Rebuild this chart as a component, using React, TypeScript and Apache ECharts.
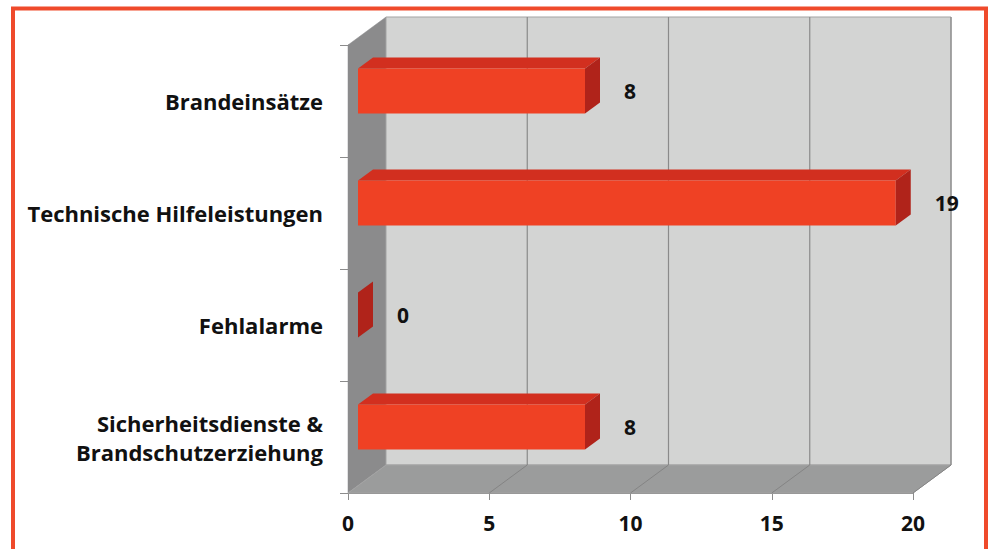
import React, { useEffect, useRef } from "react";
import * as echarts from "echarts";

const categories = [
  "Brandeinsätze",
  "Technische Hilfeleistungen",
  "Fehlalarme",
  "Sicherheitsdienste &\nBrandschutzerziehung",
];
const values = [8, 19, 0, 8];
const xTicks = [0, 5, 10, 15, 20];

const FONT = "'Open Sans', Lato, sans-serif";
const WALL_DX = 38;
const WALL_DY = -28;
const BAR_OFF = 10;
const BAR_DX = 15;
const BAR_DY = -11;

export default function App() {
  const ref = useRef<HTMLDivElement>(null);
  useEffect(() => {
    if (!ref.current) return;
    const chart = echarts.init(ref.current, undefined, { renderer: "svg" });
    const option: any = {
      animation: false,
      backgroundColor: "#ffffff",
      graphic: [
        {
          type: "rect",
          shape: { x: 13, y: 8.5, width: 973, height: 570 },
          style: { fill: "none", stroke: "#ef4a2b", lineWidth: 4 },
          z: 100,
        },
      ],
      grid: {
        left: 348,
        top: 45,
        width: 565,
        height: 448,
        containLabel: false,
        outerBoundsMode: "none",
      },
      xAxis: {
        type: "value",
        min: 0,
        max: 20,
        interval: 5,
        axisLine: { show: true, lineStyle: { color: "#8c8c8c", width: 1 } },
        axisTick: { show: true, length: 7, lineStyle: { color: "#8c8c8c" } },
        splitLine: { show: false },
        axisLabel: {
          margin: 19,
          fontFamily: FONT,
          fontWeight: "bold",
          fontSize: 21,
          color: "#111",
          formatter: (v: number) => (xTicks.includes(v) ? String(v) : ""),
        },
      },
      yAxis: {
        type: "category",
        inverse: true,
        data: categories,
        axisLine: { show: true, lineStyle: { color: "#8c8c8c", width: 1 } },
        axisTick: { show: true, length: 8, lineStyle: { color: "#8c8c8c" } },
        axisLabel: {
          margin: 25,
          fontFamily: FONT,
          fontWeight: "bold",
          fontSize: 22,
          lineHeight: 29,
          color: "#111",
          align: "right",
        },
      },
      series: [
        {
          type: "custom",
          silent: true,
          z: 1,
          data: [[0, 0]],
          renderItem: (params: any, api: any) => {
            const cs = params.coordSys;
            const x0 = cs.x;
            const x1 = cs.x + cs.width;
            const y0 = cs.y;
            const y1 = cs.y + cs.height;
            const children: any[] = [];
            children.push({
              type: "polygon",
              shape: {
                points: [
                  [x0, y0],
                  [x0 + WALL_DX, y0 + WALL_DY],
                  [x0 + WALL_DX, y1 + WALL_DY],
                  [x0, y1],
                ],
              },
              style: { fill: "#8b8b8c", stroke: "#8b8b8c", lineWidth: 0.5 },
            });
            children.push({
              type: "rect",
              shape: {
                x: x0 + WALL_DX,
                y: y0 + WALL_DY,
                width: x1 - x0,
                height: y1 - y0,
              },
              style: { fill: "#d3d4d3", stroke: "#a3a3a3", lineWidth: 1 },
            });
            children.push({
              type: "polygon",
              shape: {
                points: [
                  [x0, y1],
                  [x0 + WALL_DX, y1 + WALL_DY],
                  [x1 + WALL_DX, y1 + WALL_DY],
                  [x1, y1],
                ],
              },
              style: { fill: "#9b9c9c", stroke: "#a3a3a3", lineWidth: 1 },
            });
            xTicks.forEach((v) => {
              if (v === 0) return;
              const p = api.coord([v, 0]);
              const gx = p[0];
              children.push({
                type: "line",
                shape: {
                  x1: gx + WALL_DX,
                  y1: y0 + WALL_DY,
                  x2: gx + WALL_DX,
                  y2: y1 + WALL_DY,
                },
                style: { stroke: "#8a8a8a", lineWidth: 1.2 },
              });
              children.push({
                type: "line",
                shape: {
                  x1: gx + WALL_DX,
                  y1: y1 + WALL_DY,
                  x2: gx,
                  y2: y1,
                },
                style: { stroke: "#848484", lineWidth: 1 },
              });
            });
            return { type: "group", children };
          },
        },
        {
          type: "custom",
          z: 5,
          data: values.map((v, i) => [v, i]),
          renderItem: (params: any, api: any) => {
            const v = api.value(0);
            const idx = api.value(1);
            const p0 = api.coord([0, idx]);
            const pe = api.coord([v, idx]);
            const band = api.size([0, 1])[1];
            const h = band * 0.4;
            const xl = p0[0] + BAR_OFF;
            const xr = pe[0] + BAR_OFF + 1;
            const c = p0[1] - BAR_OFF;
            const yt = c - h / 2;
            const yb = c + h / 2;
            const children: any[] = [];
            if (v > 0) {
              children.push({
                type: "polygon",
                shape: {
                  points: [
                    [xl, yt],
                    [xl + BAR_DX, yt + BAR_DY],
                    [xr + BAR_DX, yt + BAR_DY],
                    [xr, yt],
                  ],
                },
                style: { fill: "#d22f1f" },
              });
              children.push({
                type: "rect",
                shape: { x: xl, y: yt, width: xr - xl, height: h },
                style: { fill: "#ef4124" },
              });
            }
            const sx = v > 0 ? xr : xl;
            children.push({
              type: "polygon",
              shape: {
                points: [
                  [sx, yt],
                  [sx + BAR_DX, yt + BAR_DY],
                  [sx + BAR_DX, yb + BAR_DY],
                  [sx, yb],
                ],
              },
              style: { fill: "#b0231a" },
            });
            children.push({
              type: "text",
              style: {
                x: sx + BAR_DX + 24,
                y: c,
                text: String(v),
                align: "left",
                verticalAlign: "middle",
                fontFamily: FONT,
                fontWeight: "bold",
                fontSize: 21,
                fill: "#111",
              },
            });
            return { type: "group", children };
          },
        },
      ],
    };
    chart.setOption(option);
    return () => chart.dispose();
  }, []);
  return (
    <div
      ref={ref}
      style={{ position: "fixed", left: 0, top: 0, width: 992, height: 549 }}
    />
  );
}
